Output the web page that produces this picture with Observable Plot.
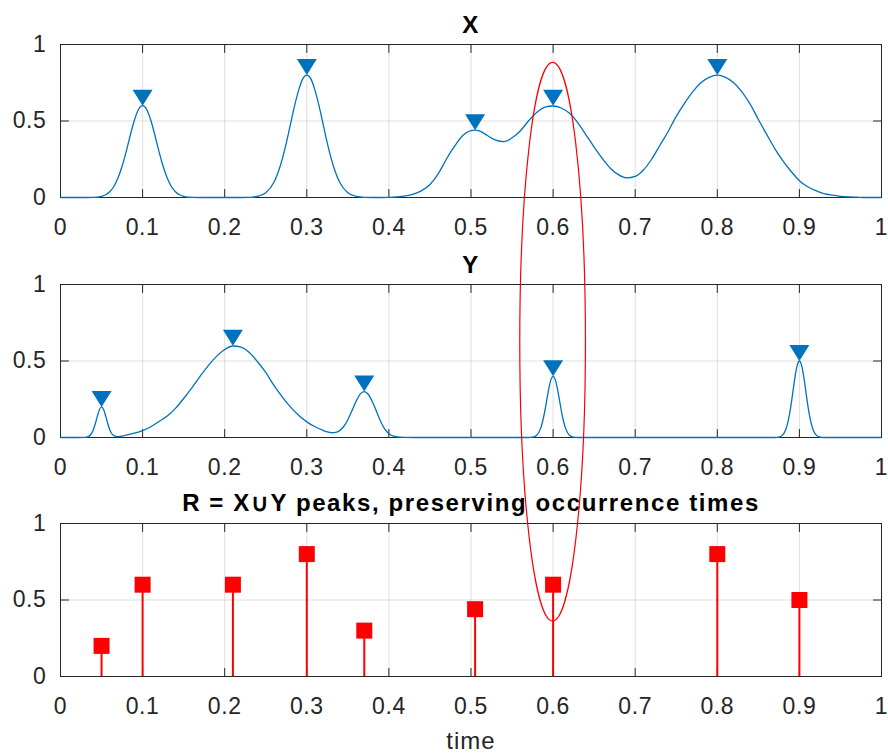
<!DOCTYPE html>
<html><head><meta charset="utf-8">
<script src="https://cdn.jsdelivr.net/npm/d3@7"></script>
<script src="https://cdn.jsdelivr.net/npm/@observablehq/plot@0.6"></script>
<style>
body{margin:0;background:#fff;}
#fig{position:relative;width:888px;height:754px;background:#fff;overflow:hidden;}
#fig > svg{position:absolute;left:0;}
</style></head><body><div id="fig"></div>
<script>
// ---- data ----
const xTicks = [0,0.1,0.2,0.3,0.4,0.5,0.6,0.7,0.8,0.9,1];
const yTicks = [0,0.5,1];

const xTime = [0,0.01,0.02,0.03,0.04,0.05,0.055,0.06,0.065,0.07,0.075,0.08,0.085,0.09,0.095,0.1,0.105,0.11,0.115,0.12,0.125,0.13,0.135,0.14,0.145,0.15,0.16,0.17,0.18,0.19,0.2,0.21,0.22,0.23,0.24,0.25,0.26,0.265,0.27,0.275,0.28,0.285,0.29,0.295,0.3,0.305,0.31,0.315,0.32,0.325,0.33,0.335,0.34,0.35,0.36,0.37,0.38,0.39,0.4,0.41,0.42,0.43,0.44,0.45,0.46,0.47,0.48,0.49,0.5,0.505,0.51,0.52,0.53,0.54,0.55,0.56,0.57,0.58,0.59,0.6,0.61,0.62,0.63,0.64,0.65,0.66,0.67,0.68,0.69,0.7,0.71,0.72,0.73,0.74,0.75,0.76,0.77,0.78,0.79,0.8,0.81,0.82,0.83,0.84,0.85,0.86,0.87,0.88,0.89,0.9,0.91,0.92,0.93,0.94,0.95,0.96,0.97,0.98,0.99,1];
const xValue = [0,0,0,0,0.001,0.008,0.018,0.038,0.072,0.127,0.204,0.30,0.407,0.505,0.575,0.6,0.575,0.505,0.407,0.30,0.204,0.127,0.072,0.038,0.018,0.008,0.001,0,0,0,0,0,0,0.001,0.007,0.031,0.100,0.163,0.249,0.355,0.476,0.597,0.70,0.775,0.8,0.775,0.70,0.597,0.476,0.355,0.249,0.163,0.100,0.031,0.007,0.001,0,0,0.001,0.004,0.01,0.022,0.045,0.085,0.155,0.25,0.335,0.405,0.437,0.44,0.435,0.405,0.375,0.365,0.39,0.435,0.50,0.555,0.59,0.598,0.585,0.55,0.49,0.41,0.33,0.255,0.19,0.148,0.128,0.138,0.18,0.25,0.34,0.43,0.53,0.615,0.69,0.75,0.785,0.80,0.785,0.75,0.69,0.61,0.51,0.414,0.32,0.24,0.17,0.11,0.07,0.045,0.025,0.015,0.008,0.004,0.002,0,0,0];

const yTime = [0,0.01,0.02,0.03,0.035,0.04,0.0425,0.045,0.0475,0.05,0.0525,0.055,0.0575,0.06,0.065,0.07,0.08,0.09,0.1,0.11,0.12,0.13,0.14,0.15,0.16,0.17,0.18,0.19,0.2,0.21,0.22,0.23,0.24,0.25,0.26,0.27,0.28,0.29,0.3,0.31,0.32,0.325,0.33,0.335,0.34,0.345,0.35,0.355,0.36,0.365,0.37,0.375,0.38,0.385,0.39,0.395,0.4,0.405,0.41,0.42,0.43,0.5,0.56,0.57,0.575,0.58,0.5825,0.585,0.5875,0.59,0.5925,0.595,0.5975,0.6,0.6025,0.605,0.6075,0.61,0.6125,0.615,0.6175,0.62,0.625,0.63,0.7,0.8,0.87,0.875,0.88,0.8825,0.885,0.8875,0.89,0.8925,0.895,0.8975,0.9,0.9025,0.905,0.9075,0.91,0.9125,0.915,0.9175,0.92,0.925,0.93,1];
const yValue = [0,0,0,0.001,0.009,0.05,0.092,0.141,0.183,0.2,0.183,0.141,0.092,0.05,0.012,0.006,0.015,0.028,0.045,0.07,0.105,0.14,0.19,0.255,0.325,0.40,0.47,0.53,0.575,0.598,0.59,0.555,0.495,0.425,0.34,0.265,0.2,0.145,0.102,0.07,0.046,0.036,0.031,0.033,0.045,0.072,0.116,0.175,0.236,0.284,0.3,0.281,0.232,0.169,0.105,0.055,0.025,0.01,0.004,0.001,0,0,0,0,0.002,0.015,0.033,0.063,0.111,0.176,0.252,0.326,0.38,0.4,0.38,0.326,0.252,0.176,0.111,0.063,0.033,0.015,0.002,0,0,0,0,0.003,0.019,0.041,0.079,0.139,0.22,0.315,0.408,0.475,0.5,0.475,0.408,0.315,0.22,0.139,0.079,0.041,0.019,0.003,0,0];

const xPeakTime = [0.1,0.3,0.505,0.6,0.8];
const xPeakValue = [0.6,0.8,0.44,0.6,0.8];
const yPeakTime = [0.05,0.21,0.37,0.6,0.9];
const yPeakValue = [0.2,0.6,0.3,0.4,0.5];
const rTime = [0.05,0.1,0.21,0.3,0.37,0.505,0.6,0.8,0.9];
const rValue = [0.2,0.6,0.6,0.8,0.3,0.44,0.6,0.8,0.5];

const titles = ["X", "Y", "R = X\u222AY peaks, preserving occurrence times"];
const xLabel = "time";

// highlight ellipse (data units): centre time, half width, top on X panel, bottom on R panel
const ellipseTime = 0.6, ellipseHalfWidth = 0.04, ellipseTopX = 0.88, ellipseBottomR = 0.36;

// ---- style ----
const FONT = "'Liberation Sans', Arial, Helvetica, sans-serif";
const INK = "#262626";
const BLUE = "#0072BD";
const RED = "#FF0000";

const rows = (ts, vs) => ts.map((t, i) => ({t, v: vs[i]}));
const fmt = d => String(+d.toFixed(2));
const tickShape = {draw(ctx, l) { ctx.moveTo(0, 0); ctx.lineTo(0, -l); }};
const triDown = {draw(ctx, size) { const r = Math.sqrt(size / Math.PI); ctx.moveTo(0, 0); ctx.lineTo(-r, -1.6 * r); ctx.lineTo(r, -1.6 * r); ctx.closePath(); }};
const squareSym = {draw(ctx, size) { const r = Math.sqrt(size / Math.PI); ctx.rect(-r, -r, 2 * r, 2 * r); }};

function panel({height, marginTop, marginBottom, title, titleDy, marks, xlabel}) {
  const tk = {stroke: INK, strokeWidth: 1, length: 8, anchor: "start", shape: tickShape};
  const svg = Plot.plot({
    width: 888, height, marginLeft: 60, marginRight: 7, marginTop, marginBottom,
    style: {fontFamily: FONT, background: "transparent", overflow: "visible", color: INK},
    x: {domain: [0, 1]},
    y: {domain: [0, 1]},
    marks: [
      Plot.gridX(xTicks, {stroke: INK, strokeOpacity: 0.15, strokeWidth: 1}),
      Plot.gridY(yTicks, {stroke: INK, strokeOpacity: 0.15, strokeWidth: 1}),
      Plot.frame({stroke: INK, strokeWidth: 1}),
      Plot.vector(xTicks, {x: d => d, y: 0, rotate: 0, ...tk}),
      Plot.vector(xTicks, {x: d => d, y: 1, rotate: 180, ...tk}),
      Plot.vector(yTicks, {x: 0, y: d => d, rotate: 90, ...tk}),
      Plot.vector(yTicks, {x: 1, y: d => d, rotate: -90, ...tk}),
      ...marks,
      Plot.axisX(xTicks, {anchor: "bottom", tickSize: 0, tickPadding: 21, tickFormat: fmt, fontSize: 23, fill: INK, label: null}),
      Plot.axisY(yTicks, {anchor: "left", tickSize: 0, tickPadding: 14, tickFormat: fmt, fontSize: 23, fill: INK, label: null}),
      Plot.text([title], {frameAnchor: "top", lineAnchor: "middle", dy: titleDy, fontSize: 24, fontWeight: "bold", fill: "#000"}),
      xlabel ? Plot.text([xlabel], {frameAnchor: "bottom", lineAnchor: "middle", dy: 65, fontSize: 24, fill: INK}) : null
    ]
  });
  // MATLAB-like wider glyph spacing
  d3.select(svg).selectAll('g[aria-label="x-axis tick label"] text, g[aria-label="y-axis tick label"] text')
    .style("letter-spacing", "0.6px");
  d3.select(svg).selectAll('g[aria-label="text"] text')
    .style("letter-spacing", function() { return this.textContent === xLabel ? "1px" : "1.6px"; });
  return svg;
}

const fig = document.getElementById("fig");
const tops = [0, 240, 480];

const p1 = panel({height: 240, marginTop: 44, marginBottom: 43, title: titles[0], titleDy: -19, marks: [
  Plot.line(rows(xTime, xValue), {x: "t", y: "v", stroke: BLUE, strokeWidth: 1.3, curve: "monotone-x"}),
  Plot.dot(rows(xPeakTime, xPeakValue), {x: "t", y: "v", symbol: triDown, r: 10, fill: BLUE, stroke: "none"})
]});
const p2 = panel({height: 240, marginTop: 44, marginBottom: 43, title: titles[1], titleDy: -19, marks: [
  Plot.line(rows(yTime, yValue), {x: "t", y: "v", stroke: BLUE, strokeWidth: 1.3, curve: "monotone-x"}),
  Plot.dot(rows(yPeakTime, yPeakValue), {x: "t", y: "v", symbol: triDown, r: 10, fill: BLUE, stroke: "none"})
]});
const p3 = panel({height: 274, marginTop: 43, marginBottom: 78, title: titles[2], titleDy: -20.5, xlabel: xLabel, marks: [
  Plot.ruleX(rows(rTime, rValue), {x: "t", y1: 0, y2: "v", stroke: RED, strokeWidth: 2}),
  Plot.dot(rows(rTime, rValue), {x: "t", y: "v", symbol: squareSym, r: 8, fill: RED, stroke: "none"})
]});

[p1, p2, p3].forEach((p, i) => { p.style.top = tops[i] + "px"; fig.appendChild(p); });

// overlay ellipse, positioned through the panels' own scales
const sx = p1.scale("x");
const cx = sx.apply(ellipseTime);
const rx = sx.apply(ellipseTime + ellipseHalfWidth) - cx;
const yTop = tops[0] + p1.scale("y").apply(ellipseTopX);
const yBot = tops[2] + p3.scale("y").apply(ellipseBottomR);
const ov = d3.create("svg").attr("width", 888).attr("height", 754)
  .style("position", "absolute").style("left", "0px").style("top", "0px").style("pointer-events", "none");
ov.append("ellipse").attr("cx", cx).attr("cy", (yTop + yBot) / 2).attr("rx", rx).attr("ry", (yBot - yTop) / 2)
  .attr("fill", "none").attr("stroke", RED).attr("stroke-width", 1.2);
fig.appendChild(ov.node());
</script></body></html>
